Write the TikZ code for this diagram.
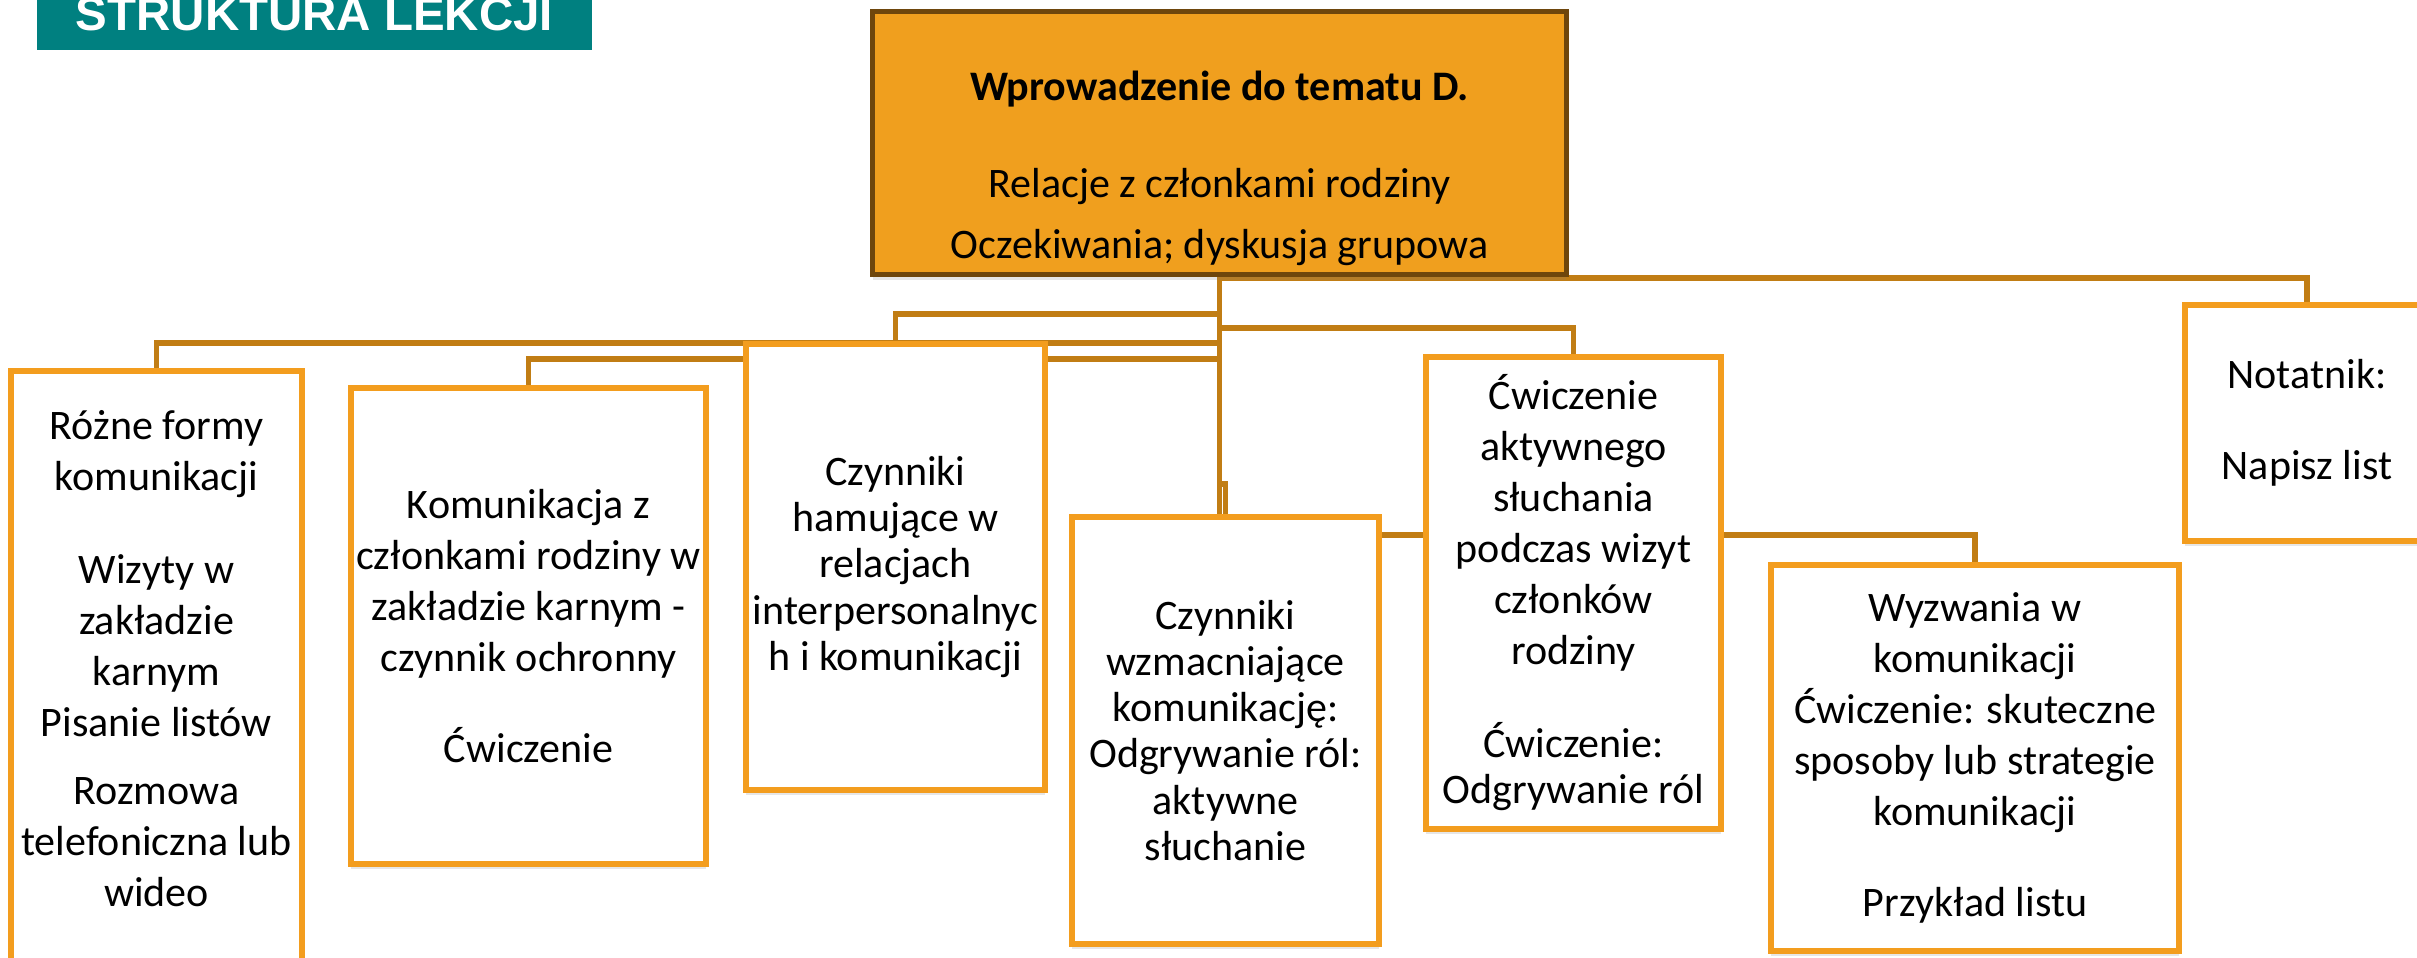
\documentclass[tikz,border=0pt]{standalone}
\usepackage{fontspec}
\setmainfont{Carlito}
\newfontfamily\headfont{Liberation Sans}
\usetikzlibrary{positioning,shadows,backgrounds}

\definecolor{headteal}{RGB}{0,128,128}
\definecolor{mainfill}{RGB}{240,159,30}
\definecolor{mainline}{RGB}{110,70,12}
\definecolor{linkcol}{RGB}{193,125,20}
\definecolor{boxline}{RGB}{243,157,30}

\begin{document}
\begin{tikzpicture}[x=0.01cm,y=-0.01cm,
	link/.style={draw=linkcol,line width=1.6pt},
	box/.style={draw=boxline,line width=1.7pt,fill=white,align=center,inner sep=0pt,
		font=\fontsize{11.95}{14.5}\selectfont,
		drop shadow={shadow xshift=0pt,shadow yshift=-1.5pt,opacity=0.2}},
	mainbox/.style={box,draw=mainline,fill=mainfill,line width=1.5pt},
	tight/.style={font=\fontsize{11.95}{13.1}\selectfont}]
	\useasboundingbox (0,0) rectangle (2417,957);
	\clip (0,0) rectangle (2417,957);
	
	\node[fill=headteal,text=white,font=\headfont\bfseries\fontsize{13.5}{16}\selectfont,
		anchor=south,minimum width=5.55cm,text height=0.34cm,text depth=0pt,inner ysep=0.2cm]
		(title) at (314.5,51) {STRUKTURA LEKCJI};
	
	\node[mainbox,anchor=north,minimum width=6.93cm,text height=2.47cm,text depth=0.16cm]
		(main) at (1219.5,9) {\textbf{Wprowadzenie do tematu D.}\\[0.46cm]
		Relacje z członkami rodziny\\[0.1cm]Oczekiwania; dyskusja grupowa};
	
	\node[box,anchor=north,minimum width=2.91cm,text height=5.35cm,text depth=1cm]
		(b1) at (156.5,368) {Różne formy\\komunikacji\\[0.42cm]Wizyty w\\zakładzie\\karnym\\
		Pisanie listów\\[0.17cm]Rozmowa\\telefoniczna lub\\wideo};
	\node[box,minimum width=3.55cm,minimum height=4.76cm] (b2) at (528.5,626)
		{Komunikacja z\\członkami rodziny w\\zakładzie karnym -\\czynnik ochronny\\[0.4cm]Ćwiczenie};
	\node[box,tight,minimum width=2.99cm,minimum height=4.46cm] (b3) at (895.5,567)
		{Czynniki\\hamujące w\\relacjach\\interpersonalnyc\\h i komunikacji};
	\node[box,tight,minimum width=3.07cm,minimum height=4.27cm] (b4) at (1225.5,730.5)
		{Czynniki\\wzmacniające\\komunikację:\\Odgrywanie ról:\\aktywne\\słuchanie};
	\node[box,minimum width=2.95cm,minimum height=4.72cm] (b5) at (1573.5,593)
		{Ćwiczenie\\aktywnego\\słuchania\\podczas wizyt\\członków\\rodziny\\[0.42cm]
		Ćwiczenie:\\[-0.05cm]Odgrywanie ról};
	\node[box,minimum width=4.08cm,minimum height=3.86cm] (b6) at (1975,758)
		{Wyzwania w\\komunikacji\\Ćwiczenie: skuteczne\\sposoby lub strategie\\komunikacji\\[0.4cm]
		Przykład listu};
	\node[box,minimum width=2.44cm,minimum height=2.36cm] (b7) at (2307,423)
		{Notatnik:\\[0.4cm]Napisz list};
	
	% levels of the branches
	\coordinate (j0) at (0,278);
	\coordinate (j3) at (0,314);
	\coordinate (j5) at (0,328);
	\coordinate (j1) at (0,343);
	\coordinate (j2) at (0,359);
	\coordinate (j4) at (0,484);
	\coordinate (j6) at (0,535);
	
	\begin{scope}[on background layer]
	\draw[link] (main.south) |- (j0 -| b7.north) -- (b7.north);
	\draw[link] (main.south) |- (j3 -| b3.north) -- (b3.north);
	\draw[link] (main.south) |- (j5 -| b5.north) -- (b5.north);
	\draw[link] (main.south) |- (j1 -| b1.north) -- (b1.north);
	\draw[link] (main.south) |- (j2 -| b2.north) -- (b2.north);
	\draw[link] (main.south) |- (j4 -| b4.north) -- (b4.north);
	\draw[link] (main.south) |- (j6 -| b6.north) -- (b6.north);
	\end{scope}
\end{tikzpicture}
\end{document}
